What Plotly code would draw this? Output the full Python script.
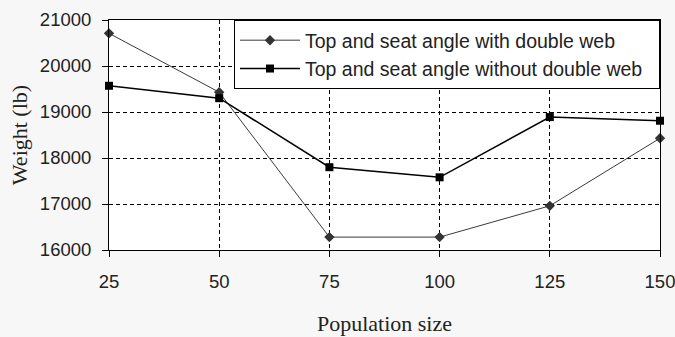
import plotly.graph_objects as go

population = [25, 50, 75, 100, 125, 150]
with_double_web = [20710, 19430, 16280, 16280, 16960, 18430]
without_double_web = [19570, 19300, 17800, 17580, 18890, 18810]
series_names = ["Top and seat angle with double web\u00a0\u00a0",
                "Top and seat angle without double web\u00a0\u00a0"]
y_ticks = [16000, 17000, 18000, 19000, 20000, 21000]

fig = go.Figure()
fig.add_trace(go.Scatter(
    x=population, y=with_double_web, name=series_names[0],
    mode="lines+markers", cliponaxis=False,
    line=dict(color="#3a3a3a", width=1),
    marker=dict(symbol="diamond", size=8, color="#333333"),
))
fig.add_trace(go.Scatter(
    x=population, y=without_double_web, name=series_names[1],
    mode="lines+markers", cliponaxis=False,
    line=dict(color="#000000", width=1.5),
    marker=dict(symbol="square", size=8, color="#000000"),
))

tick_font = dict(family="Liberation Sans, Arial, sans-serif", size=18.5, color="#222222")
title_font = dict(family="Liberation Serif, Times New Roman, serif", size=22, color="#222222")

fig.update_layout(
    width=675, height=337,
    margin=dict(l=109, r=15, t=20, b=87),
    paper_bgcolor="#f7f7f7", plot_bgcolor="#ffffff",
    showlegend=True,
    legend=dict(
        x=1, xanchor="right", y=1, yanchor="top",
        bgcolor="#ffffff", bordercolor="#000000", borderwidth=1,
        itemwidth=60,
        font=dict(family="Liberation Sans, Arial, sans-serif", size=19.5, color="#222222"),
    ),
    xaxis=dict(
        range=[25, 150], tickvals=population, tickformat="d",
        automargin=False, ticklabeloverflow="allow", ticklabelstandoff=9,
        showline=True, mirror=True, linecolor="#000000", linewidth=1,
        ticks="outside", ticklen=6, tickcolor="#000000",
        showgrid=True, gridcolor="#000000", gridwidth=1, griddash="4px,3px",
        zeroline=False, tickfont=tick_font,
        title=dict(text="Population size", font=title_font, standoff=24),
    ),
    yaxis=dict(
        range=[16000, 21000], tickvals=y_ticks, tickformat="d",
        automargin=False, ticklabeloverflow="allow", ticklabelstandoff=7,
        showline=True, mirror=True, linecolor="#000000", linewidth=1,
        ticks="outside", ticklen=6, tickcolor="#000000",
        showgrid=True, gridcolor="#000000", gridwidth=1, griddash="4px,3px",
        zeroline=False, tickfont=tick_font,
        title=dict(text="Weight (lb)", font=title_font, standoff=6),
    ),
)

fig.write_html("out.html", config={"displayModeBar": False},
               post_script="document.body.style.margin='0';document.body.style.padding='0';")
